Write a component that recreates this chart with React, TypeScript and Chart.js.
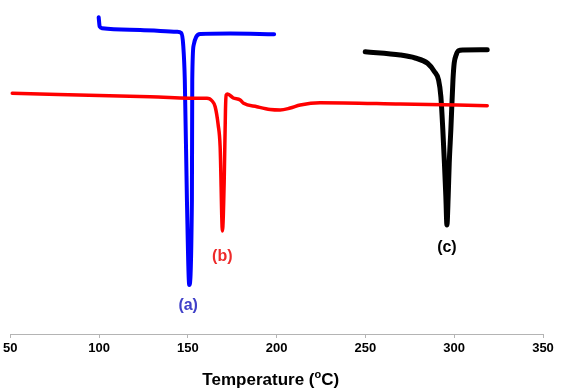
import React, { useEffect, useRef } from "react";
import { Chart, registerables } from "chart.js";

Chart.register(...registerables);

// Temperature (°C) and heat flow (arbitrary units, endo down)
const blueTemp = [99.8, 100.4, 101.8, 123.2, 143.9, 146.3, 147.4, 148.3, 149.5, 150.8, 152.3, 152.5, 153.3, 154.7, 157.0, 173.9, 198.6];
const blueFlow = [31.67, 30.73, 30.57, 30.4, 30.23, 30.1, 28.9, 25.4, 13.4, 4.9, 13.4, 25.4, 28.9, 29.7, 30.0, 30.05, 29.97];

const redTemp = [51.1, 128.8, 158.7, 160.8, 163.7, 165.4, 167.1, 168.2, 169.5, 170.5, 171.2, 171.6, 172.4, 175.6, 179.5, 181.4, 188.9, 196.4, 202.0, 207.7, 213.3, 224.5, 269.6, 318.6];
const redFlow = [24.07, 23.73, 23.57, 23.57, 23.3, 22.73, 20.9, 18.73, 10.3, 15.4, 22.4, 23.9, 24.0, 23.6, 23.4, 23.07, 22.73, 22.45, 22.4, 22.6, 22.9, 23.13, 23.0, 22.83];

const blackTemp = [249.9, 269.6, 278.0, 285.0, 288.9, 291.2, 292.5, 293.6, 294.5, 295.3, 295.9, 296.6, 297.2, 298.1, 299.3, 300.0, 301.1, 302.4, 305.0, 318.6];
const blackFlow = [28.23, 27.9, 27.6, 27.07, 26.23, 25.4, 23.73, 20.4, 17.07, 13.7, 10.9, 13.7, 17.07, 20.4, 25.4, 27.1, 27.9, 28.33, 28.4, 28.42];

const xTicks = [50, 100, 150, 200, 250, 300, 350];

const peakLabels = ["(a)", "(b)", "(c)"];
const peakLabelTemp = [150.2, 169.4, 295.9];
const peakLabelFlow = [2.8, 7.7, 8.65];
const peakLabelColors = ["#4040c8", "#ee2a2a", "#000000"];

const toPoints = (xs: number[], ys: number[]) => xs.map((x, i) => ({ x, y: ys[i] }));

const labelPlugin = {
  id: "peakLabels",
  afterDatasetsDraw(chart: any) {
    const ctx = chart.ctx;
    const xs = chart.scales.x;
    const ys = chart.scales.y;
    ctx.save();
    ctx.font = "bold 16px 'Liberation Sans', Arial, sans-serif";
    ctx.textAlign = "center";
    ctx.textBaseline = "middle";
    peakLabels.forEach((t, i) => {
      ctx.fillStyle = peakLabelColors[i];
      ctx.fillText(t, xs.getPixelForValue(peakLabelTemp[i]), ys.getPixelForValue(peakLabelFlow[i]));
    });
    // axis title with superscript "o"
    const big = "bold 17px 'Liberation Sans', Arial, sans-serif";
    const small = "bold 11px 'Liberation Sans', Arial, sans-serif";
    const p1 = "Temperature (";
    const p2 = "o";
    const p3 = "C)";
    ctx.font = big;
    const w1 = ctx.measureText(p1).width;
    const w3 = ctx.measureText(p3).width;
    ctx.font = small;
    const w2 = ctx.measureText(p2).width;
    const total = w1 + w2 + w3;
    const cx = chart.chartArea.left + (chart.chartArea.right - chart.chartArea.left) * 0.489;
    const y = chart.height - 11;
    let x = cx - total / 2;
    ctx.textAlign = "left";
    ctx.textBaseline = "middle";
    ctx.fillStyle = "#000";
    ctx.font = big;
    ctx.fillText(p1, x, y);
    x += w1;
    ctx.font = small;
    ctx.fillText(p2, x, y - 5);
    x += w2;
    ctx.font = big;
    ctx.fillText(p3, x, y);
    ctx.restore();
  },
};

export default function App() {
  const ref = useRef<HTMLCanvasElement | null>(null);
  useEffect(() => {
    if (!ref.current) return;
    const lineCommon = {
      pointRadius: 0,
      fill: false,
      cubicInterpolationMode: "monotone" as const,
      borderJoinStyle: "round" as const,
      borderCapStyle: "round" as const,
    };
    const chart = new Chart(ref.current, {
      type: "line",
      data: {
        datasets: [
          { ...lineCommon, label: "(b)", data: toPoints(redTemp, redFlow), borderColor: "#ff0000", borderWidth: 3.5 },
          { ...lineCommon, label: "(a)", data: toPoints(blueTemp, blueFlow), borderColor: "#0000ff", borderWidth: 4 },
          { ...lineCommon, label: "(c)", data: toPoints(blackTemp, blackFlow), borderColor: "#000000", borderWidth: 5 },
        ],
      },
      options: {
        animation: false,
        responsive: false,
        maintainAspectRatio: false,
        layout: { padding: { left: 10, right: 18, top: 10, bottom: 0 } },
        plugins: { legend: { display: false }, tooltip: { enabled: false }, title: { display: false } },
        scales: {
          x: {
            type: "linear",
            min: 50,
            max: 350,
            afterBuildTicks: (s: any) => {
              s.ticks = xTicks.map((v) => ({ value: v }));
            },
            afterFit: (s: any) => {
              s.height = 57;
            },
            grid: { display: true, drawOnChartArea: false, drawTicks: true, tickLength: 4, color: "#b4b4b4" },
            border: { display: true, color: "#b4b4b4", width: 1 },
            ticks: {
              font: { family: "'Liberation Sans', Arial, sans-serif", size: 13, weight: "bold" },
              color: "#000",
              padding: 3,
              maxRotation: 0,
              autoSkip: false,
            },
            title: { display: false },
          },
          y: { type: "linear", min: 0, max: 32.4, display: false },
        },
      },
      plugins: [labelPlugin],
    });
    return () => chart.destroy();
  }, []);
  return (
    <div style={{ position: "fixed", left: 0, top: 0, width: 561, height: 391, background: "#fff" }}>
      <canvas ref={ref} width={561} height={391} style={{ width: 561, height: 391, display: "block" }} />
    </div>
  );
}
